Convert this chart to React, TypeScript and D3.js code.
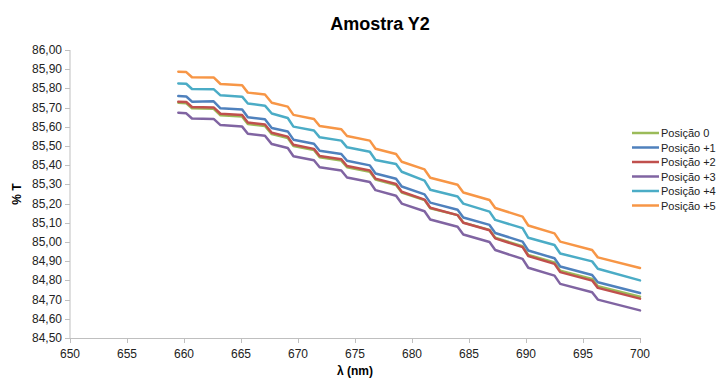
import { useRef, useEffect } from "react";
import { select, scaleLinear, line, format } from "d3";

const WIDTH = 716;
const HEIGHT = 380;
const margin = { top: 50, right: 76, bottom: 42, left: 70 };
const FONT = "'Liberation Sans', Arial, sans-serif";

// wavelength knots (nm) where the curves change slope
const wavelengths = [
  659.5, 660.2, 660.7, 662.6, 663.2, 665.1, 665.6, 667.1, 667.7, 669.1, 669.6,
  671.4, 671.9, 673.8, 674.3, 676.3, 676.8, 678.6, 679.1, 681.1, 681.6, 684.0,
  684.5, 686.8, 687.3, 689.7, 690.2, 692.5, 693.0, 695.8, 696.3, 700.0,
];

const posicao0 = [
  85.725, 85.722, 85.697, 85.694, 85.660, 85.653, 85.614, 85.604, 85.562, 85.542,
  85.500, 85.479, 85.441, 85.424, 85.389, 85.366, 85.325, 85.297, 85.258, 85.218,
  85.176, 85.140, 85.101, 85.063, 85.022, 84.978, 84.933, 84.893, 84.851, 84.808,
  84.770, 84.715,
];
const posicao1 = [
  85.760, 85.758, 85.731, 85.733, 85.696, 85.690, 85.650, 85.639, 85.594, 85.576,
  85.533, 85.512, 85.475, 85.458, 85.423, 85.399, 85.357, 85.329, 85.289, 85.248,
  85.205, 85.168, 85.128, 85.089, 85.047, 85.002, 84.956, 84.915, 84.872, 84.828,
  84.790, 84.734,
];
const posicao2 = [
  85.731, 85.729, 85.703, 85.701, 85.668, 85.661, 85.622, 85.612, 85.569, 85.549,
  85.506, 85.485, 85.448, 85.431, 85.396, 85.372, 85.330, 85.302, 85.262, 85.221,
  85.178, 85.140, 85.100, 85.061, 85.019, 84.973, 84.927, 84.886, 84.843, 84.799,
  84.761, 84.705,
];
const posicao3 = [
  85.673, 85.670, 85.643, 85.641, 85.609, 85.601, 85.564, 85.553, 85.510, 85.490,
  85.447, 85.426, 85.389, 85.372, 85.336, 85.312, 85.270, 85.241, 85.200, 85.160,
  85.117, 85.079, 85.039, 85.000, 84.958, 84.912, 84.866, 84.825, 84.782, 84.738,
  84.700, 84.644,
];
const posicao4 = [
  85.826, 85.824, 85.797, 85.796, 85.764, 85.757, 85.721, 85.710, 85.669, 85.646,
  85.601, 85.581, 85.545, 85.528, 85.493, 85.470, 85.427, 85.406, 85.366, 85.320,
  85.272, 85.237, 85.200, 85.158, 85.115, 85.072, 85.022, 84.984, 84.940, 84.899,
  84.861, 84.800,
];
const posicao5 = [
  85.887, 85.885, 85.858, 85.857, 85.823, 85.816, 85.778, 85.768, 85.725, 85.705,
  85.662, 85.641, 85.604, 85.587, 85.552, 85.528, 85.486, 85.458, 85.418, 85.378,
  85.335, 85.298, 85.258, 85.219, 85.177, 85.132, 85.086, 85.045, 85.002, 84.958,
  84.920, 84.865,
];

const seriesNames = ["Posição 0", "Posição +1", "Posição +2", "Posição +3", "Posição +4", "Posição +5"];
const seriesValues = [posicao0, posicao1, posicao2, posicao3, posicao4, posicao5];
const colors = ["#9bbb59", "#4f81bd", "#c0504d", "#8064a2", "#4bacc6", "#f79646"];

const xTicks = [650, 655, 660, 665, 670, 675, 680, 685, 690, 695, 700];
const yTicks = [
  84.5, 84.6, 84.7, 84.8, 84.9, 85.0, 85.1, 85.2, 85.3, 85.4, 85.5, 85.6, 85.7,
  85.8, 85.9, 86.0,
];

function App() {
  const svgRef = useRef<SVGSVGElement>(null);

  useEffect(() => {
    const svg = select(svgRef.current);
    svg.selectAll("*").remove();

    const x = scaleLinear().domain([650, 700]).range([margin.left, WIDTH - margin.right]);
    const y = scaleLinear().domain([84.5, 86]).range([HEIGHT - margin.bottom, margin.top]);
    const fmt = (v: number) => format(".2f")(v).replace(".", ",");
    const axisColor = "#bfbfbf";

    // title
    svg.append("text")
      .attr("x", 380)
      .attr("y", 30)
      .attr("text-anchor", "middle")
      .style("font-family", FONT)
      .style("font-size", "18px")
      .style("font-weight", "bold")
      .text("Amostra Y2");

    // y axis
    const yAxis = svg.append("g");
    yAxis.append("line")
      .attr("x1", x(650)).attr("x2", x(650))
      .attr("y1", y(86)).attr("y2", y(84.5))
      .attr("stroke", axisColor);
    yAxis.selectAll(".ytick")
      .data(yTicks)
      .join("line")
      .attr("class", "ytick")
      .attr("x1", x(650) - 5).attr("x2", x(650))
      .attr("y1", (d) => Math.round(y(d)) + 0.5).attr("y2", (d) => Math.round(y(d)) + 0.5)
      .attr("stroke", axisColor);
    yAxis.selectAll(".ylabel")
      .data(yTicks)
      .join("text")
      .attr("class", "ylabel")
      .attr("x", x(650) - 8)
      .attr("y", (d) => y(d) + 4)
      .attr("text-anchor", "end")
      .style("font-family", FONT)
      .style("font-size", "12px")
      .style("fill", "#222")
      .text(fmt);

    // x axis
    const xAxis = svg.append("g");
    xAxis.append("line")
      .attr("x1", x(650)).attr("x2", x(700))
      .attr("y1", y(84.5) + 0.5).attr("y2", y(84.5) + 0.5)
      .attr("stroke", axisColor);
    xAxis.selectAll(".xtick")
      .data(xTicks)
      .join("line")
      .attr("class", "xtick")
      .attr("x1", (d) => Math.round(x(d)) + 0.5).attr("x2", (d) => Math.round(x(d)) + 0.5)
      .attr("y1", y(84.5)).attr("y2", y(84.5) + 5)
      .attr("stroke", axisColor);
    xAxis.selectAll(".xlabel")
      .data(xTicks)
      .join("text")
      .attr("class", "xlabel")
      .attr("x", (d) => x(d))
      .attr("y", y(84.5) + 20)
      .attr("text-anchor", "middle")
      .style("font-family", FONT)
      .style("font-size", "12px")
      .style("fill", "#222")
      .text((d) => String(d));

    // axis titles
    svg.append("text")
      .attr("x", (x(650) + x(700)) / 2)
      .attr("y", 375)
      .attr("text-anchor", "middle")
      .style("font-family", FONT)
      .style("font-size", "12px")
      .style("font-weight", "bold")
      .text("λ (nm)");
    svg.append("text")
      .attr("transform", `translate(21, ${(y(86) + y(84.5)) / 2}) rotate(-90)`)
      .attr("text-anchor", "middle")
      .style("font-family", FONT)
      .style("font-size", "12px")
      .style("font-weight", "bold")
      .text("% T");

    // lines
    const path = line<number>()
      .x((_, i) => x(wavelengths[i]))
      .y((d) => y(d));
    svg.append("g")
      .selectAll("path")
      .data(seriesValues)
      .join("path")
      .attr("d", (d) => path(d))
      .attr("fill", "none")
      .attr("stroke", (_, i) => colors[i])
      .attr("stroke-width", 2.5)
      .attr("stroke-linejoin", "round")
      .attr("stroke-linecap", "round");

    // legend
    const legend = svg.append("g").attr("transform", "translate(632, 133)");
    legend.selectAll("line")
      .data(seriesNames)
      .join("line")
      .attr("x1", 0).attr("x2", 27)
      .attr("y1", (_, i) => i * 14.5).attr("y2", (_, i) => i * 14.5)
      .attr("stroke", (_, i) => colors[i])
      .attr("stroke-width", 2.5);
    legend.selectAll("text")
      .data(seriesNames)
      .join("text")
      .attr("x", 29)
      .attr("y", (_, i) => i * 14.5 + 4)
      .style("font-family", FONT)
      .style("font-size", "11px")
      .style("fill", "#222")
      .text((d) => d);
  }, []);

  return (
    <svg
      ref={svgRef}
      width={WIDTH}
      height={HEIGHT}
      style={{ position: "absolute", left: 0, top: 0, background: "#fff" }}
    />
  );
}

export default App;
